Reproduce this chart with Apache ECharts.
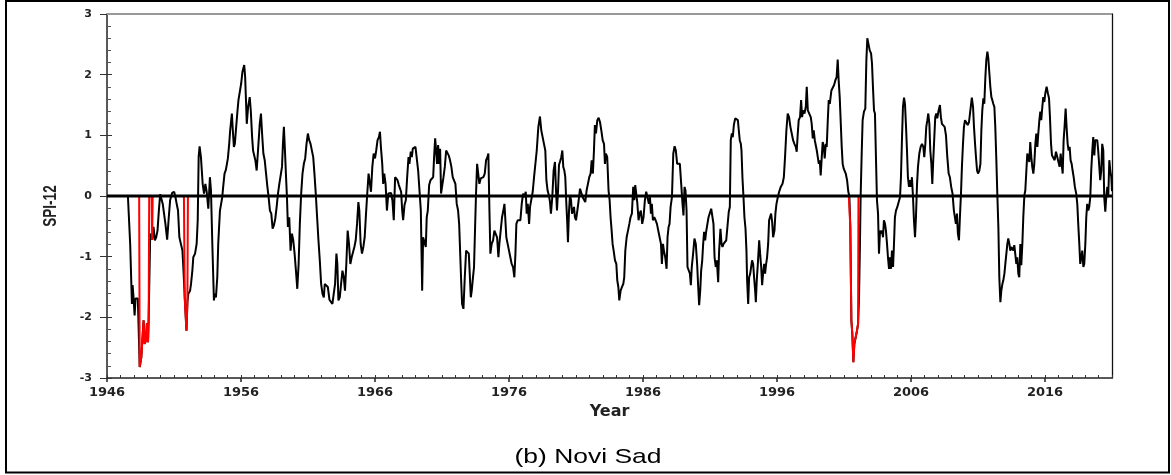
<!DOCTYPE html>
<html>
<head>
<meta charset="utf-8">
<script src="https://cdn.jsdelivr.net/npm/echarts@6/dist/echarts.min.js"></script>
<style>
html, body { margin: 0; padding: 0; background: #fff; }
#spi { width: 1171px; height: 475px; }
</style>
</head>
<body>
<div id="spi"></div>
<script>
// SPI-12, Novi Sad: [year, value], one array per decade
var spi1940s = [[1947.56,0],[1947.73,-0.79],[1947.86,-1.78],[1947.91,-1.47],[1947.98,-1.67],[1948.06,-1.97],[1948.13,-1.69],[1948.30,-1.69],[1948.44,-2.82],[1948.56,-2.66],[1948.73,-2.05],[1948.81,-2.44],[1948.91,-2.38],[1948.98,-2.10],[1949.06,-2.41],[1949.11,-2.02],[1949.22,-0.68],[1949.30,-0.62],[1949.37,-0.72],[1949.47,-0.51],[1949.57,-0.73],[1949.67,-0.68],[1949.77,-0.57],[1949.87,-0.24],[1949.97,0.03]];
var spi1950s = [[1950.06,0.05],[1950.16,-0.13],[1950.26,-0.10],[1950.36,-0.46],[1950.49,-0.72],[1950.61,-0.35],[1950.71,-0.07],[1950.86,0.05],[1951.01,0.07],[1951.11,-0.02],[1951.20,-0.13],[1951.30,-0.24],[1951.40,-0.68],[1951.53,-0.70],[1951.63,-0.90],[1951.72,-1.28],[1951.80,-1.67],[1951.93,-2.22],[1952.00,-1.75],[1952.07,-1.61],[1952.20,-1.56],[1952.27,-1.45],[1952.37,-1.23],[1952.44,-1.01],[1952.57,-0.95],[1952.69,-0.79],[1952.77,-0.40],[1952.84,0.64],[1952.91,0.82],[1953.01,0.64],[1953.14,0.20],[1953.24,0.04],[1953.34,0.20],[1953.44,0.07],[1953.56,-0.21],[1953.68,0.31],[1953.76,0.09],[1953.86,-0.79],[1953.93,-1.34],[1953.98,-1.72],[1954.05,-1.61],[1954.13,-1.67],[1954.23,-1.34],[1954.30,-0.79],[1954.43,-0.24],[1954.53,-0.23],[1954.60,-0.02],[1954.67,0.15],[1954.77,0.37],[1954.87,0.43],[1954.95,0.53],[1955.02,0.62],[1955.12,0.86],[1955.19,1.08],[1955.32,1.36],[1955.39,1.08],[1955.47,0.81],[1955.54,0.86],[1955.64,1.14],[1955.74,1.41],[1955.81,1.58],[1955.91,1.58],[1956.01,1.85],[1956.11,2.05],[1956.24,2.16],[1956.31,1.96],[1956.38,1.52],[1956.43,1.19],[1956.53,1.47],[1956.65,1.63],[1956.73,1.41],[1956.83,0.97],[1956.90,0.75],[1956.97,0.75],[1957.07,0.59],[1957.17,0.42],[1957.27,0.75],[1957.40,1.19],[1957.49,1.36],[1957.59,0.97],[1957.67,0.70],[1957.77,0.59],[1957.87,0.37],[1957.97,0.15],[1958.06,-0.02],[1958.16,-0.24],[1958.26,-0.29],[1958.36,-0.54],[1958.46,-0.48],[1958.56,-0.37],[1958.66,-0.18],[1958.76,0.04],[1958.86,0.20],[1958.96,0.23],[1959.06,0.48],[1959.13,0.86],[1959.20,1.14],[1959.28,0.75],[1959.35,0.37],[1959.43,-0.02],[1959.50,-0.51],[1959.60,-0.35],[1959.70,-0.90],[1959.80,-0.62],[1959.90,-0.73]];
var spi1960s = [[1960.00,-0.95],[1960.10,-1.23],[1960.20,-1.53],[1960.30,-1.12],[1960.39,-0.46],[1960.49,0.04],[1960.59,0.37],[1960.69,0.53],[1960.79,0.62],[1960.89,0.86],[1960.99,1.03],[1961.09,0.92],[1961.19,0.86],[1961.29,0.86],[1961.39,0.64],[1961.48,0.37],[1961.58,0.04],[1961.68,-0.35],[1961.78,-0.73],[1961.88,-1.06],[1961.98,-1.45],[1962.08,-1.61],[1962.18,-1.67],[1962.25,-1.45],[1962.35,-1.44],[1962.48,-1.50],[1962.60,-1.71],[1962.72,-1.72],[1962.82,-1.78],[1962.92,-1.75],[1963.02,-1.45],[1963.12,-0.95],[1963.19,-1.12],[1963.27,-1.72],[1963.37,-1.67],[1963.47,-1.45],[1963.57,-1.23],[1963.67,-1.34],[1963.76,-1.56],[1963.86,-1.12],[1963.96,-0.57],[1964.06,-0.79],[1964.16,-1.12],[1964.26,-1.01],[1964.36,-0.98],[1964.46,-0.84],[1964.56,-0.73],[1964.66,-0.46],[1964.76,-0.10],[1964.83,-0.24],[1964.93,-0.79],[1965.03,-0.95],[1965.13,-0.84],[1965.23,-0.68],[1965.33,-0.29],[1965.43,0.07],[1965.52,0.37],[1965.60,0.40],[1965.70,0.07],[1965.80,0.48],[1965.90,0.70],[1966.00,0.62],[1966.09,0.75],[1966.19,0.92],[1966.29,0.97],[1966.37,1.06],[1966.44,0.81],[1966.54,0.53],[1966.61,0.20],[1966.69,0.37],[1966.79,0.20],[1966.89,-0.24],[1966.99,0.04],[1967.09,0.07],[1967.20,0.05],[1967.30,-0.07],[1967.40,-0.40],[1967.50,0.31],[1967.58,0.34],[1967.68,0.26],[1967.78,0.18],[1967.88,0.15],[1967.95,0.07],[1968.03,-0.24],[1968.10,-0.40],[1968.20,-0.15],[1968.30,-0.07],[1968.40,0.31],[1968.50,0.64],[1968.57,0.53],[1968.67,0.73],[1968.75,0.64],[1968.82,0.78],[1968.92,0.75],[1969.02,0.81],[1969.12,0.84],[1969.22,0.42],[1969.32,0.09],[1969.42,-0.24],[1969.47,-0.90],[1969.52,-1.56],[1969.59,-0.68],[1969.69,-0.65],[1969.79,-0.84],[1969.86,-0.35],[1969.94,-0.24]];
var spi1970s = [[1970.04,0.18],[1970.14,0.26],[1970.24,0.29],[1970.34,0.31],[1970.41,0.64],[1970.49,0.95],[1970.56,0.75],[1970.63,0.53],[1970.71,0.84],[1970.78,0.53],[1970.86,0.78],[1970.93,0.04],[1971.01,0.07],[1971.11,0.31],[1971.21,0.48],[1971.31,0.75],[1971.41,0.73],[1971.50,0.67],[1971.60,0.59],[1971.70,0.48],[1971.80,0.31],[1971.90,0.31],[1972.00,0.20],[1972.10,-0.13],[1972.20,-0.24],[1972.28,-0.46],[1972.35,-0.90],[1972.42,-1.34],[1972.50,-1.78],[1972.60,-1.86],[1972.70,-1.34],[1972.80,-0.90],[1972.90,-0.87],[1973.00,-0.95],[1973.07,-1.28],[1973.15,-1.67],[1973.22,-1.56],[1973.29,-1.39],[1973.39,-1.17],[1973.47,-0.51],[1973.54,0.04],[1973.62,0.53],[1973.69,0.51],[1973.79,0.20],[1973.89,0.29],[1973.99,0.29],[1974.09,0.31],[1974.19,0.37],[1974.29,0.59],[1974.39,0.64],[1974.46,0.70],[1974.54,-0.24],[1974.61,-0.95],[1974.71,-0.79],[1974.81,-0.73],[1974.91,-0.57],[1975.01,-0.54],[1975.11,-0.68],[1975.21,-1.01],[1975.28,-0.79],[1975.38,-0.57],[1975.48,-0.35],[1975.58,-0.24],[1975.66,-0.13],[1975.73,-0.40],[1975.80,-0.68],[1975.90,-0.79],[1976.00,-0.90],[1976.10,-1.01],[1976.20,-1.12],[1976.30,-1.17],[1976.40,-1.34],[1976.48,-0.95],[1976.55,-0.46],[1976.65,-0.40],[1976.75,-0.40],[1976.85,-0.40],[1976.95,-0.13],[1977.05,0.04],[1977.15,-0.02],[1977.25,0.07],[1977.32,-0.29],[1977.40,-0.13],[1977.50,-0.46],[1977.57,-0.18],[1977.67,-0.18],[1977.77,0.07],[1977.87,0.31],[1977.97,0.34],[1978.07,0.75],[1978.19,1.14],[1978.31,1.31],[1978.41,1.08],[1978.51,0.97],[1978.61,0.86],[1978.71,0.75],[1978.79,0.26],[1978.88,0.09],[1978.98,0.01],[1979.06,-0.10],[1979.13,-0.29],[1979.23,-0.02],[1979.33,0.42],[1979.43,0.56],[1979.51,0.09],[1979.58,-0.24],[1979.66,0.09],[1979.73,0.51],[1979.80,0.56],[1979.90,0.64],[1979.98,0.75]];
var spi1980s = [[1980.05,0.48],[1980.13,0.42],[1980.20,0.31],[1980.28,-0.13],[1980.35,-0.46],[1980.40,-0.76],[1980.48,-0.24],[1980.55,0.01],[1980.63,-0.07],[1980.70,-0.29],[1980.77,-0.24],[1980.85,-0.18],[1980.92,-0.35],[1981.00,-0.40],[1981.10,-0.24],[1981.20,-0.07],[1981.30,0.12],[1981.40,0.15],[1981.50,-0.02],[1981.59,-0.04],[1981.69,-0.10],[1981.79,0.09],[1981.89,0.20],[1981.99,0.31],[1982.09,0.37],[1982.17,0.59],[1982.26,0.37],[1982.34,0.75],[1982.41,1.17],[1982.49,1.03],[1982.59,1.25],[1982.69,1.29],[1982.79,1.22],[1982.89,1.08],[1982.99,0.92],[1983.09,0.86],[1983.16,0.53],[1983.23,0.70],[1983.33,0.64],[1983.43,0.09],[1983.51,-0.07],[1983.58,-0.35],[1983.66,-0.57],[1983.73,-0.79],[1983.81,-0.90],[1983.91,-1.06],[1984.01,-1.12],[1984.08,-1.39],[1984.16,-1.50],[1984.23,-1.72],[1984.33,-1.56],[1984.43,-1.50],[1984.53,-1.45],[1984.60,-1.34],[1984.68,-0.90],[1984.78,-0.68],[1984.88,-0.57],[1984.98,-0.46],[1985.07,-0.35],[1985.17,-0.29],[1985.27,0.15],[1985.35,-0.07],[1985.42,0.18],[1985.50,0.15],[1985.57,-0.10],[1985.67,-0.40],[1985.75,-0.29],[1985.84,-0.24],[1985.94,-0.46],[1986.04,-0.35],[1986.14,-0.07],[1986.24,0.07],[1986.34,0.09],[1986.44,-0.13],[1986.52,-0.02],[1986.59,-0.29],[1986.66,-0.13],[1986.74,-0.40],[1986.84,-0.35],[1986.94,-0.40],[1987.04,-0.46],[1987.14,-0.57],[1987.24,-0.68],[1987.34,-0.79],[1987.41,-1.12],[1987.49,-0.79],[1987.56,-0.90],[1987.66,-1.01],[1987.76,-1.20],[1987.83,-0.68],[1987.91,-0.51],[1987.98,-0.46],[1988.06,-0.18],[1988.16,-0.02],[1988.26,0.70],[1988.36,0.82],[1988.45,0.75],[1988.55,0.53],[1988.65,0.56],[1988.75,0.53],[1988.85,0.20],[1988.95,-0.13],[1989.02,-0.32],[1989.10,0.15],[1989.17,0.09],[1989.25,-0.24],[1989.32,-1.17],[1989.40,-1.20],[1989.50,-1.28],[1989.57,-1.47],[1989.64,-1.17],[1989.74,-0.95],[1989.84,-0.70],[1989.94,-0.79]];
var spi1990s = [[1990.04,-1.12],[1990.12,-1.50],[1990.19,-1.80],[1990.27,-1.56],[1990.34,-1.23],[1990.42,-1.06],[1990.49,-0.79],[1990.56,-0.59],[1990.64,-0.73],[1990.71,-0.59],[1990.79,-0.59],[1990.89,-0.35],[1990.99,-0.35],[1991.09,-0.21],[1991.19,-0.21],[1991.26,-0.46],[1991.34,-1.01],[1991.43,-1.17],[1991.51,-1.06],[1991.61,-1.42],[1991.68,-0.90],[1991.78,-0.54],[1991.86,-0.79],[1991.93,-0.84],[1992.01,-0.79],[1992.11,-0.79],[1992.21,-0.73],[1992.30,-0.73],[1992.40,-0.26],[1992.48,-0.18],[1992.55,0.92],[1992.63,1.03],[1992.70,0.97],[1992.78,1.17],[1992.88,1.28],[1992.98,1.30],[1993.08,1.25],[1993.15,1.08],[1993.22,0.92],[1993.30,0.86],[1993.35,0.75],[1993.42,0.31],[1993.50,-0.02],[1993.57,-0.35],[1993.65,-0.54],[1993.72,-0.90],[1993.77,-1.39],[1993.85,-1.78],[1993.92,-1.34],[1994.00,-1.28],[1994.07,-1.28],[1994.14,-1.06],[1994.22,-1.12],[1994.29,-1.34],[1994.37,-1.56],[1994.42,-1.75],[1994.49,-1.39],[1994.57,-1.12],[1994.67,-0.73],[1994.74,-0.95],[1994.82,-1.17],[1994.89,-1.47],[1994.96,-1.28],[1995.04,-1.12],[1995.11,-1.28],[1995.19,-1.12],[1995.26,-1.01],[1995.34,-0.79],[1995.41,-0.40],[1995.49,-0.37],[1995.56,-0.29],[1995.64,-0.43],[1995.71,-0.68],[1995.81,-0.57],[1995.88,-0.29],[1995.96,-0.13],[1996.06,-0.02],[1996.16,0.07],[1996.28,0.15],[1996.41,0.20],[1996.51,0.31],[1996.60,0.64],[1996.70,1.08],[1996.80,1.36],[1996.90,1.30],[1997.00,1.14],[1997.10,1.03],[1997.20,0.92],[1997.30,0.86],[1997.40,0.81],[1997.47,0.73],[1997.55,1.03],[1997.62,1.25],[1997.72,1.30],[1997.80,1.58],[1997.87,1.30],[1997.95,1.41],[1998.05,1.36],[1998.15,1.47],[1998.22,1.80],[1998.30,1.41],[1998.37,1.44],[1998.44,1.41],[1998.52,1.30],[1998.59,1.19],[1998.67,0.95],[1998.74,1.08],[1998.82,0.92],[1998.89,0.89],[1998.97,0.75],[1999.04,0.73],[1999.12,0.53],[1999.19,0.59],[1999.26,0.34],[1999.34,0.64],[1999.41,0.89],[1999.49,0.81],[1999.56,0.62],[1999.64,0.86],[1999.71,0.81],[1999.79,1.25],[1999.86,1.58],[1999.94,1.52]];
var spi2000s = [[2000.06,1.74],[2000.16,1.72],[2000.26,1.83],[2000.36,1.91],[2000.45,1.96],[2000.53,2.25],[2000.60,1.91],[2000.68,1.63],[2000.75,1.25],[2000.83,0.81],[2000.90,0.53],[2000.98,0.45],[2001.05,0.42],[2001.13,0.37],[2001.23,0.26],[2001.32,0.07],[2001.40,0.0],[2001.47,-0.51],[2001.55,-2.05],[2001.62,-2.27],[2001.70,-2.74],[2001.77,-2.44],[2001.87,-2.44],[2001.97,-2.22],[2002.05,-2.11],[2002.12,-1.69],[2002.19,-0.79],[2002.24,-0.02],[2002.32,0.70],[2002.39,1.25],[2002.49,1.39],[2002.59,1.44],[2002.67,2.24],[2002.74,2.60],[2002.82,2.51],[2002.92,2.40],[2003.02,2.35],[2003.09,2.18],[2003.16,1.80],[2003.24,1.41],[2003.31,1.36],[2003.39,0.59],[2003.46,-0.07],[2003.54,-0.29],[2003.61,-0.95],[2003.69,-0.57],[2003.76,-0.62],[2003.84,-0.57],[2003.91,-0.68],[2003.98,-0.40],[2004.06,-0.46],[2004.13,-0.57],[2004.21,-0.79],[2004.28,-1.01],[2004.36,-1.20],[2004.43,-1.01],[2004.51,-1.20],[2004.58,-0.90],[2004.66,-1.17],[2004.73,-0.79],[2004.80,-0.35],[2004.88,-0.24],[2004.98,-0.18],[2005.08,-0.10],[2005.18,-0.02],[2005.25,0.31],[2005.33,0.97],[2005.40,1.47],[2005.48,1.62],[2005.55,1.52],[2005.63,1.14],[2005.70,0.75],[2005.77,0.31],[2005.85,0.15],[2005.92,0.26],[2006.00,0.15],[2006.07,0.31],[2006.15,-0.02],[2006.22,-0.40],[2006.30,-0.68],[2006.37,-0.35],[2006.45,0.20],[2006.52,0.48],[2006.62,0.70],[2006.72,0.81],[2006.82,0.86],[2006.92,0.81],[2006.99,0.64],[2007.07,0.86],[2007.14,1.14],[2007.22,1.25],[2007.29,1.36],[2007.37,1.19],[2007.44,0.75],[2007.52,0.53],[2007.59,0.20],[2007.66,0.59],[2007.74,0.97],[2007.81,1.30],[2007.89,1.36],[2007.96,1.28],[2008.06,1.41],[2008.16,1.50],[2008.23,1.30],[2008.31,1.19],[2008.41,1.19],[2008.51,1.14],[2008.61,1.00],[2008.71,0.64],[2008.81,0.37],[2008.90,0.31],[2009.00,0.15],[2009.10,0.04],[2009.20,-0.24],[2009.28,-0.24],[2009.35,-0.46],[2009.43,-0.29],[2009.50,-0.62],[2009.58,-0.73],[2009.65,-0.35],[2009.73,0.04],[2009.80,0.48],[2009.88,0.86],[2009.95,1.14]];
var spi2010s = [[2010.03,1.25],[2010.13,1.22],[2010.23,1.17],[2010.33,1.22],[2010.45,1.25],[2010.54,1.62],[2010.63,1.47],[2010.70,1.14],[2010.78,0.86],[2010.85,0.64],[2010.93,0.42],[2011.00,0.37],[2011.10,0.42],[2011.18,0.53],[2011.25,1.08],[2011.32,1.41],[2011.40,1.61],[2011.47,1.52],[2011.55,1.96],[2011.62,2.24],[2011.70,2.38],[2011.77,2.27],[2011.85,2.02],[2011.92,1.80],[2012.00,1.63],[2012.07,1.58],[2012.14,1.52],[2012.22,1.47],[2012.29,1.14],[2012.37,0.59],[2012.44,0.04],[2012.52,-0.51],[2012.59,-1.34],[2012.67,-1.75],[2012.74,-1.56],[2012.82,-1.45],[2012.89,-1.39],[2012.97,-1.28],[2013.04,-1.12],[2013.11,-1.14],[2013.19,-0.79],[2013.26,-0.70],[2013.34,-0.79],[2013.41,-0.90],[2013.49,-0.84],[2013.56,-0.84],[2013.64,-0.90],[2013.71,-0.81],[2013.79,-0.79],[2013.86,-1.12],[2013.93,-1.01],[2014.01,-1.28],[2014.08,-1.34],[2014.16,-0.79],[2014.23,-1.14],[2014.31,-0.79],[2014.38,-0.35],[2014.46,0.01],[2014.53,0.09],[2014.61,0.42],[2014.68,0.70],[2014.75,0.73],[2014.83,0.56],[2014.90,0.89],[2014.98,0.64],[2015.05,0.48],[2015.13,0.37],[2015.20,0.53],[2015.28,0.86],[2015.35,1.03],[2015.43,0.81],[2015.50,1.03],[2015.58,1.25],[2015.65,1.39],[2015.72,1.25],[2015.80,1.47],[2015.87,1.63],[2015.95,1.55],[2016.02,1.69],[2016.12,1.80],[2016.22,1.69],[2016.30,1.61],[2016.37,1.30],[2016.45,0.86],[2016.52,0.67],[2016.62,0.70],[2016.72,0.59],[2016.82,0.73],[2016.92,0.64],[2017.02,0.62],[2017.09,0.48],[2017.17,0.70],[2017.24,0.53],[2017.32,0.37],[2017.39,0.92],[2017.46,1.14],[2017.54,1.44],[2017.61,1.14],[2017.69,0.86],[2017.76,0.75],[2017.84,0.81],[2017.91,0.59],[2017.99,0.53],[2018.06,0.42],[2018.14,0.31],[2018.23,0.15],[2018.33,0.04],[2018.41,-0.13],[2018.48,-0.46],[2018.56,-0.79],[2018.63,-1.12],[2018.71,-1.01],[2018.78,-0.90],[2018.86,-1.17],[2018.93,-1.12],[2019.01,-0.79],[2019.08,-0.35],[2019.15,-0.13],[2019.23,-0.24],[2019.30,-0.18],[2019.38,-0.02],[2019.45,0.42],[2019.53,0.75],[2019.60,0.97],[2019.68,0.67],[2019.75,0.92],[2019.83,0.89],[2019.90,0.92],[2019.97,0.75]];
var spi2020s = [[2020.05,0.75],[2020.12,0.26],[2020.20,0.42],[2020.27,0.86],[2020.35,0.75],[2020.42,-0.02],[2020.50,-0.26],[2020.57,-0.02],[2020.65,0.15],[2020.72,-0.02],[2020.80,0.59],[2020.87,0.42],[2020.95,0.31],[2021.00,0.08]];

// extreme drought spells drawn in red (start, end)
var droughtEvents = [[1948.40, 1949.15], [1949.33, 1949.41], [1951.74, 1952.04], [2001.36, 2002.08]];
var yearLabels = [1946, 1956, 1966, 1976, 1986, 1996, 2006, 2016];
var xMin = 1946, xMax = 2021;

var spi = [].concat(spi1940s, spi1950s, spi1960s, spi1970s, spi1980s, spi1990s, spi2000s, spi2010s, spi2020s);

var chart = echarts.init(document.getElementById('spi'));
var axisFont = 'DejaVu Sans';
var plotBox = { left: 107, right: 59, top: 14, bottom: 97, containLabel: false, outerBoundsMode: 'none' };

var series = [{
  name: 'SPI-12',
  type: 'line',
  data: spi,
  symbol: 'none',
  lineStyle: { color: '#000', width: 2 },
  silent: true
}];

droughtEvents.forEach(function (ev) {
  var pts = [[ev[0], 0]];
  spi.forEach(function (p) {
    if (p[0] >= ev[0] && p[0] <= ev[1]) pts.push(p);
  });
  pts.push([ev[1], 0]);
  series.push({
    type: 'line',
    data: pts,
    symbol: 'none',
    lineStyle: { color: '#ff0000', width: 2 },
    silent: true
  });
});

// zero line across the whole axis
series.push({
  type: 'line',
  data: [[xMin, 0], [xMax, 0]],
  symbol: 'none',
  lineStyle: { color: '#000', width: 3 },
  silent: true
});

// top frame line of the plot, drawn as a series along the upper y limit
series.push({
  type: 'line',
  data: [[xMin, 3], [xMax, 3]],
  symbol: 'none',
  clip: false,
  lineStyle: { color: '#999', width: 2 },
  silent: true
});

var option = {
  animation: false,
  backgroundColor: '#fff',
  // grid 0 carries the data, grid 1 (same box) the right edge and outer ticks
  grid: [plotBox, Object.assign({}, plotBox)],
  xAxis: [{
    gridIndex: 0,
    type: 'value',
    min: xMin,
    max: xMax,
    interval: 1,
    position: 'bottom',
    name: 'Year',
    nameLocation: 'middle',
    nameGap: 25,
    nameTextStyle: { fontFamily: axisFont, fontWeight: 'bold', fontSize: 16, color: '#222' },
    splitLine: { show: false },
    axisLine: { show: true, onZero: false, lineStyle: { color: '#222', width: 1.5 } },
    axisTick: { show: true, inside: true, length: 3, lineStyle: { color: '#333' } },
    axisLabel: {
      customValues: yearLabels,
      margin: 8,
      formatter: function (v) { return String(v); },
      fontFamily: axisFont,
      fontWeight: 'bold',
      fontSize: 13,
      color: '#222'
    }
  }, {
    gridIndex: 1,
    type: 'value',
    min: xMin,
    max: xMax,
    position: 'bottom',
    splitLine: { show: false },
    axisLine: { show: false, onZero: false },
    axisTick: { show: true, customValues: yearLabels, length: 4, lineStyle: { color: '#222', width: 1.5 } },
    axisLabel: { show: false }
  }],
  yAxis: [{
    gridIndex: 0,
    type: 'value',
    min: -3,
    max: 3,
    interval: 1,
    position: 'left',
    splitLine: { show: false },
    axisLine: { show: true, onZero: false, lineStyle: { color: '#222', width: 1.5 } },
    axisTick: { show: true, inside: true, length: 5, lineStyle: { color: '#333' } },
    minorTick: { show: true, splitNumber: 5, length: 4, lineStyle: { color: '#555' } },
    axisLabel: { margin: 15, fontFamily: axisFont, fontWeight: 'bold', fontSize: 11, color: '#222' }
  }, {
    gridIndex: 1,
    type: 'value',
    min: -3,
    max: 3,
    interval: 1,
    position: 'left',
    splitLine: { show: false },
    axisLine: { show: false, onZero: false },
    axisTick: { show: true, length: 7, lineStyle: { color: '#333' } },
    axisLabel: { show: false }
  }, {
    gridIndex: 1,
    type: 'value',
    min: -3,
    max: 3,
    position: 'right',
    splitLine: { show: false },
    axisLine: { show: true, onZero: false, lineStyle: { color: '#111', width: 1.3 } },
    axisTick: { show: false },
    axisLabel: { show: false }
  }],
  graphic: [{
    type: 'rect',
    shape: { x: 6, y: 1, width: 1163, height: 471.5 },
    style: { fill: 'none', stroke: '#000', lineWidth: 2 },
    silent: true
  }, {
    type: 'text',
    x: 50.5,
    y: 206,
    rotation: Math.PI / 2,
    scaleY: 1.35,
    style: {
      text: 'SPI-12',
      font: 'bold 13.5px "Liberation Sans", Arial, sans-serif',
      fill: '#222',
      align: 'center',
      verticalAlign: 'middle'
    },
    silent: true
  }, {
    type: 'text',
    x: 588,
    y: 457,
    scaleX: 1.26,
    style: {
      text: '(b) Novi Sad',
      font: '21px "Liberation Sans", Arial, sans-serif',
      fill: '#000',
      align: 'center',
      verticalAlign: 'middle'
    },
    silent: true
  }],
  series: series
};

chart.setOption(option);
</script>
</body>
</html>
